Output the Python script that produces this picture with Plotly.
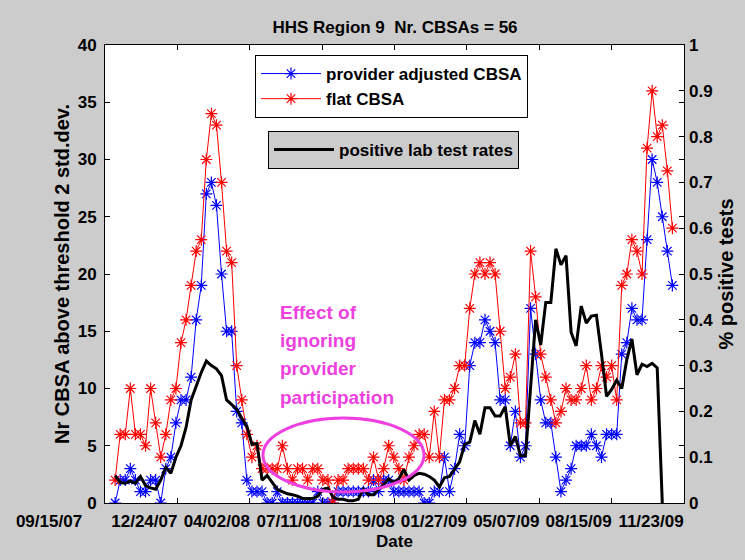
import plotly.graph_objects as go
import pandas as pd

# ---------------- data ----------------
first_week = "2007-09-29"   # weekly points

provider_adjusted = [0, 2, 2, 3, 2, 1, 1, 2, 2, 0, 3, 4, 7, 9, 9, 11, 16, 19, 27, 28,
                     26, 20, 15, 15, 8, 7, 2, 1, 1, 1, 0, 0, 1, 0, 0, 0, 0, 0, 0, 0,
                     1, 0, 0, 0, 1, 1, 1, 1, 1, 1, 1, 2, 1, 2, 2, 1, 1, 1, 1, 1,
                     1, 0, 0, 1, 1, 4, 1, 3, 6, 5, 12, 14, 14, 16, 15, 14, 9, 9, 5, 8,
                     4, 5, 17, 13, 9, 7, 7, 4, 1, 2, 3, 5, 5, 5, 6, 5, 4, 6, 6, 6,
                     13, 14, 17, 16, 16, 23, 30, 28, 25, 22, 19]

flat_cbsa = [2, 6, 6, 10, 6, 6, 5, 10, 7, 4, 6, 9, 10, 14, 16, 19, 22, 23, 30, 34,
             33, 28, 22, 21, 12, 9, 6, 4, 5, 3, 3, 3, 3, 5, 3, 2, 3, 3, 2, 3,
             3, 2, 2, 0, 2, 2, 3, 3, 3, 3, 2, 4, 2, 3, 5, 4, 3, 2, 4, 5,
             6, 6, 4, 8, 4, 9, 9, 10, 12, 12, 17, 20, 21, 20, 21, 20, 15, 10, 11, 13,
             7, 7, 22, 18, 13, 11, 9, 7, 8, 10, 9, 9, 10, 12, 9, 10, 12, 11, 12, 9,
             19, 20, 23, 22, 20, 31, 36, 32, 33, 29, 24]

positive_rate = [0.060, 0.045, 0.043, 0.048, 0.043, 0.058, 0.038, 0.033, 0.030, 0.050,
                 0.078, 0.065, 0.100, 0.125, 0.165, 0.225, 0.255, 0.285, 0.310, 0.300,
                 0.293, 0.278, 0.225, 0.215, 0.205, 0.185, 0.168, 0.128, 0.130, 0.050,
                 0.060, 0.045, 0.030, 0.025, 0.020, 0.018, 0.015, 0.010, 0.010, 0.010,
                 0.015, 0.030, 0.033, 0.013, 0.008, 0.008, 0.005, 0.005, 0.008, 0.030,
                 0.018, 0.018, 0.030, 0.040, 0.053, 0.045, 0.053, 0.073, 0.050, 0.060,
                 0.065, 0.063, 0.058, 0.050, 0.035, 0.055, 0.058, 0.075, 0.090, 0.128,
                 0.133, 0.180, 0.150, 0.208, 0.208, 0.190, 0.190, 0.210, 0.125, 0.145,
                 0.103, 0.103, 0.250, 0.400, 0.345, 0.438, 0.438, 0.555, 0.520, 0.540,
                 0.373, 0.343, 0.430, 0.393, 0.408, 0.410, 0.325, 0.233, 0.248, 0.268,
                 0.250, 0.313, 0.358, 0.280, 0.303, 0.298, 0.305, 0.295, 0.000]

tick_dates = ["2007-09-15", "2007-12-24", "2008-04-02", "2008-07-11", "2008-10-19",
              "2009-01-27", "2009-05-07", "2009-08-15", "2009-11-23"]
tick_labels = ["09/15/07", "12/24/07", "04/02/08", "07/11/08", "10/19/08",
               "01/27/09", "05/07/09", "08/15/09", "11/23/09"]
left_ticks = [0, 5, 10, 15, 20, 25, 30, 35, 40]
right_ticks = [0, 0.1, 0.2, 0.3, 0.4, 0.5, 0.6, 0.7, 0.8, 0.9, 1]
right_tick_text = ["0", "0.1", "0.2", "0.3", "0.4", "0.5", "0.6", "0.7", "0.8", "0.9", "1"]
note_lines = ["Effect of", "ignoring", "provider", "participation"]

weeks = pd.date_range(first_week, periods=len(flat_cbsa), freq="7D")
rate_weeks = weeks[:len(positive_rate)]

# ---------------- layout geometry ----------------
W, H = 745, 560
PL, PR, PT, PB = 105, 684, 45, 503          # plot area in pixels
ML, MR = 0, W - PR
paper_w = W - ML - MR
paper_h = PB - PT
x_start = pd.Timestamp(tick_dates[0])
x_end = pd.Timestamp(tick_dates[-1])
days_per_px = (x_end - x_start).days / (PR - PL)

def px_to_date(px):
    return x_start + pd.Timedelta(days=(px - PL) * days_per_px)

def py_to_left(py):
    return (PB - py) / (PB - PT) * 40

# label positions: labels sit right-aligned on their ticks (as in the source)
label_shift_px = [56, 33, 33, 33, 33, 33, 33, 33, 33]
label_pos = [pd.Timestamp(d) - pd.Timedelta(days=s * days_per_px)
             for d, s in zip(tick_dates, label_shift_px)]

FONT = "Liberation Sans, Arial, sans-serif"
MAGENTA = "#EE3FE0"

fig = go.Figure()

fig.add_trace(go.Scatter(
    x=weeks, y=provider_adjusted, name="provider adjusted CBSA",
    mode="lines+markers", line=dict(color="#0000FF", width=1),
    marker=dict(symbol="asterisk-open", size=10, color="#0000FF",
                line=dict(color="#0000FF", width=1.2)),
    legend="legend"))
fig.add_trace(go.Scatter(
    x=weeks, y=flat_cbsa, name="flat CBSA",
    mode="lines+markers", line=dict(color="#FF0000", width=1),
    marker=dict(symbol="asterisk-open", size=10, color="#FF0000",
                line=dict(color="#FF0000", width=1.2)),
    legend="legend"))
fig.add_trace(go.Scatter(
    x=rate_weeks, y=positive_rate, name="positive lab test rates",
    mode="lines", line=dict(color="black", width=3),
    yaxis="y2", legend="legend2"))
# carrier for the tick-label axis
fig.add_trace(go.Scatter(x=[label_pos[0], x_end], y=[None, None], xaxis="x2", yaxis="y",
                         mode="lines", showlegend=False, hoverinfo="skip"))

# white plot area
fig.add_shape(type="rect", xref="x domain", yref="y domain", x0=0, x1=1, y0=0, y1=1,
              fillcolor="white", line=dict(width=0), layer="below")
# ellipse
fig.add_shape(type="circle", xref="x", yref="y",
              x0=px_to_date(263), x1=px_to_date(424),
              y0=py_to_left(492), y1=py_to_left(418),
              line=dict(color=MAGENTA, width=3))

note_y_px = [312, 340, 368.5, 397]
for line_text, ypx in zip(note_lines, note_y_px):
    fig.add_annotation(text="<b>" + line_text + "</b>",
                       xref="x", yref="y", x=px_to_date(278), y=py_to_left(ypx),
                       xanchor="left", yanchor="middle", align="left", showarrow=False,
                       font=dict(family=FONT, size=19, color=MAGENTA))

axis_font = dict(family=FONT, size=17, color="black", weight="bold")

fig.update_layout(
    width=W, height=H,
    margin=dict(l=ML, r=MR, t=PT, b=H - PB, autoexpand=False),
    paper_bgcolor="#CCCCCC", plot_bgcolor="rgba(0,0,0,0)",
    font=dict(family=FONT, size=17, color="black"),
    title=dict(text="<b>HHS Region 9&nbsp; Nr. CBSAs = 56</b>",
               x=(395 - ML) / paper_w, xref="paper", xanchor="center",
               y=1 - 27 / H, yref="container", yanchor="middle",
               font=dict(family=FONT, size=17, color="black")),
    xaxis=dict(domain=[(PL - ML) / paper_w, 1], type="date",
               range=[x_start, x_end], tickvals=tick_dates,
               showticklabels=False, ticks="inside", ticklen=5, tickcolor="black",
               showline=True, linecolor="black", linewidth=1, mirror="ticks",
               showgrid=False, zeroline=False,
               title=dict(text="<b>Date</b>", standoff=32,
                          font=dict(family=FONT, size=17))),
    xaxis2=dict(domain=[0, 1], type="date", anchor="y",
                range=[px_to_date(ML), x_end],
                tickvals=label_pos, ticktext=tick_labels, ticks="",
                ticklabelstandoff=6,
                tickfont=axis_font, showline=False, showgrid=False, zeroline=False),
    yaxis=dict(range=[0, 40], tickvals=left_ticks, ticks="inside", ticklen=5,
               tickcolor="black", showline=True, linecolor="black", linewidth=1,
               mirror="ticks", showgrid=False, zeroline=False, tickfont=axis_font,
               ticklabelstandoff=4,
               title=dict(text="<b>Nr CBSA above threshold 2 std.dev.</b>", standoff=2,
                          font=dict(family=FONT, size=20))),
    yaxis2=dict(range=[0, 1], tickvals=right_ticks, ticktext=right_tick_text,
                overlaying="y", side="right", anchor="x",
                ticks="inside", ticklen=5, tickcolor="black", showline=False,
                showgrid=False, zeroline=False, tickfont=axis_font, ticklabelstandoff=4,
                title=dict(text="<b>% positive tests</b>", standoff=6,
                           font=dict(family=FONT, size=20))),
    legend=dict(x=(255 - ML) / paper_w, y=(PB - 55) / paper_h, xanchor="left",
                yanchor="top", bgcolor="white", bordercolor="black", borderwidth=1,
                font=dict(family=FONT, size=17, weight="bold"), itemwidth=60,
                tracegroupgap=0),
    legend2=dict(x=(268 - ML) / paper_w, y=(PB - 131) / paper_h, xanchor="left",
                 yanchor="top", bgcolor="#CCCCCC", bordercolor="black", borderwidth=1,
                 font=dict(family=FONT, size=17, weight="bold"), itemwidth=60),
    showlegend=True,
)

fig.write_html("out.html", config={"displayModeBar": False},
               post_script="document.body.style.margin='0px';"
                           "document.body.style.background='#CCCCCC';")
